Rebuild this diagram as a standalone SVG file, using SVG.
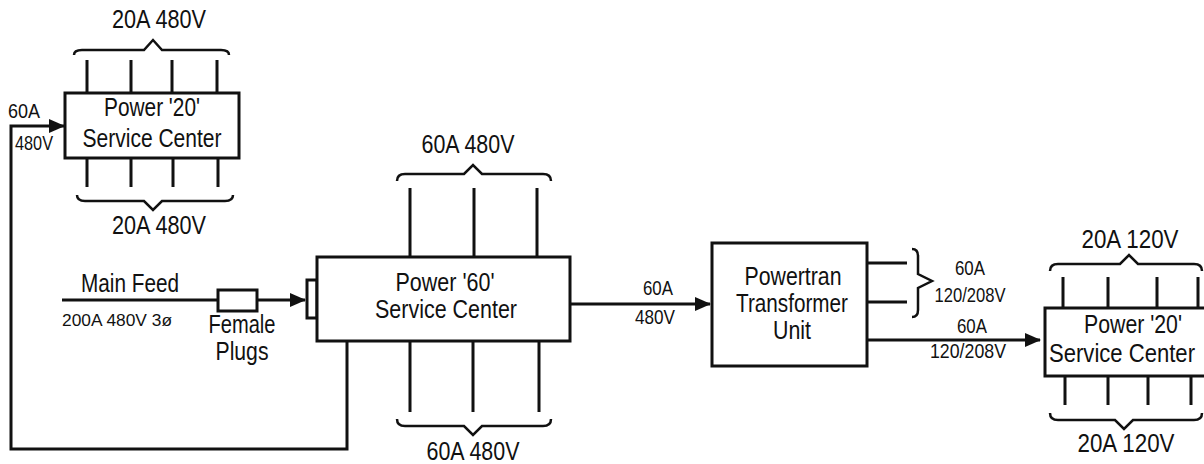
<svg xmlns="http://www.w3.org/2000/svg" width="1204" height="464" viewBox="0 0 1204 464">
<style>
text{font-family:"Liberation Sans",Arial,sans-serif;fill:#111;text-anchor:middle}
.b{font-size:25px}
.s{font-size:21px}
.st{text-anchor:start}
.box{fill:#fff;stroke:#111;stroke-width:3}
.ln{fill:none;stroke:#111;stroke-width:3}
.br{fill:none;stroke:#111;stroke-width:2.5;stroke-linejoin:miter}
</style>
<defs>
<marker id="ar" markerUnits="userSpaceOnUse" markerWidth="16" markerHeight="14" refX="15" refY="7" orient="auto">
<path d="M0,0 L16,7 L0,14 Z" fill="#111"/>
</marker>
</defs>
<rect width="1204" height="464" fill="#fff"/>
<g id="connectors">
<path class="ln" d="M347,341 V449 H11 V126 H64" marker-end="url(#ar)"/>
<line class="ln" x1="62" y1="300" x2="218" y2="300"/>
<line class="ln" x1="257" y1="300" x2="305" y2="300" marker-end="url(#ar)"/>
<line class="ln" x1="571" y1="304" x2="710" y2="304" marker-end="url(#ar)"/>
<line class="ln" x1="867" y1="263" x2="907" y2="263"/>
<line class="ln" x1="867" y1="302" x2="907" y2="302"/>
<line class="ln" x1="867" y1="340" x2="1040" y2="340" marker-end="url(#ar)"/>
</g>
<g id="labels">
<text class="s st" x="8" y="118" textLength="32" lengthAdjust="spacingAndGlyphs">60A</text>
<text class="s st" x="15" y="150" textLength="38" lengthAdjust="spacingAndGlyphs">480V</text>
<text class="b" x="130" y="292" textLength="98" lengthAdjust="spacingAndGlyphs">Main Feed</text>
<text class="st" x="62" y="326" font-size="17" textLength="110" lengthAdjust="spacingAndGlyphs">200A 480V 3ø</text>
<text class="s" x="658" y="295" textLength="30" lengthAdjust="spacingAndGlyphs">60A</text>
<text class="s" x="655" y="324" textLength="40" lengthAdjust="spacingAndGlyphs">480V</text>
<path class="br" d="M912,249 Q918,249 918,256 V274 L932,281 L918,288 V310 Q918,317 912,317"/>
<text class="s" x="970" y="275" textLength="30" lengthAdjust="spacingAndGlyphs">60A</text>
<text class="s" x="970" y="302" textLength="71" lengthAdjust="spacingAndGlyphs">120/208V</text>
<text class="s" x="972" y="333" textLength="30" lengthAdjust="spacingAndGlyphs">60A</text>
<text class="s" x="968" y="358" textLength="76" lengthAdjust="spacingAndGlyphs">120/208V</text>
</g>
<g id="plug">
<rect class="box" x="218" y="290" width="39" height="21"/>
<text class="b" x="242" y="333" textLength="67" lengthAdjust="spacingAndGlyphs">Female</text>
<text class="b" x="242" y="360" textLength="53" lengthAdjust="spacingAndGlyphs">Plugs</text>
</g>
<g id="power20-left">
<path class="ln" d="M87,60 V93 M131,60 V93 M172,60 V93 M217,60 V93 M87,158 V187 M131,158 V187 M173,158 V187 M218,158 V187"/>
<rect class="box" x="65" y="93" width="174" height="65"/>
<text class="b" x="152" y="116" textLength="96" lengthAdjust="spacingAndGlyphs">Power '20'</text>
<text class="b" x="152" y="147" textLength="139" lengthAdjust="spacingAndGlyphs">Service Center</text>
<path class="br" d="M74,55 Q74,50 82,50 H144 L153,40 L162,50 H221 Q229,50 229,55"/>
<text class="b" x="159" y="28" textLength="94" lengthAdjust="spacingAndGlyphs">20A 480V</text>
<path class="br" d="M77,195 Q77,201 85,201 H144 L153,210 L162,201 H225 Q233,201 233,195"/>
<text class="b" x="159" y="234" textLength="94" lengthAdjust="spacingAndGlyphs">20A 480V</text>
</g>
<g id="power60">
<path class="ln" d="M410,188 V257 M474,188 V257 M537,188 V257 M410,341 V412 M473,341 V412 M539,341 V412"/>
<rect class="box" x="307" y="280" width="10" height="38"/>
<rect class="box" x="317" y="257" width="253" height="84"/>
<text class="b" x="445" y="291" textLength="99" lengthAdjust="spacingAndGlyphs">Power '60'</text>
<text class="b" x="446" y="318" textLength="142" lengthAdjust="spacingAndGlyphs">Service Center</text>
<path class="br" d="M397,181 Q397,174 405,174 H464 L473,165 L482,174 H543 Q551,174 551,181"/>
<text class="b" x="468" y="153" textLength="93" lengthAdjust="spacingAndGlyphs">60A 480V</text>
<path class="br" d="M397,419 Q397,426 405,426 H464 L473,435 L482,426 H543 Q551,426 551,419"/>
<text class="b" x="473" y="460" textLength="93" lengthAdjust="spacingAndGlyphs">60A 480V</text>
</g>
<g id="transformer">
<rect class="box" x="712" y="243" width="155" height="123"/>
<text class="b" x="793" y="285" textLength="97" lengthAdjust="spacingAndGlyphs">Powertran</text>
<text class="b" x="792" y="312" textLength="112" lengthAdjust="spacingAndGlyphs">Transformer</text>
<text class="b" x="792" y="339" textLength="38" lengthAdjust="spacingAndGlyphs">Unit</text>
</g>
<g id="power20-right">
<path class="ln" d="M1063,277 V308 M1108,277 V308 M1157,277 V308 M1198,277 V308 M1065,376 V405 M1108,376 V405 M1148,376 V405 M1191,376 V405"/>
<rect class="box" x="1045" y="308" width="170" height="68"/>
<text class="b" x="1133" y="333" textLength="98" lengthAdjust="spacingAndGlyphs">Power '20'</text>
<text class="b" x="1122" y="362" textLength="146" lengthAdjust="spacingAndGlyphs">Service Center</text>
<path class="br" d="M1050,271 Q1050,264 1058,264 H1120 L1129,255 L1138,264 H1194 Q1202,264 1202,271"/>
<text class="b" x="1130" y="248" textLength="97" lengthAdjust="spacingAndGlyphs">20A 120V</text>
<path class="br" d="M1050,413 Q1050,420 1058,420 H1115 L1124,429 L1133,420 H1194 Q1202,420 1202,413"/>
<text class="b" x="1126" y="452" textLength="97" lengthAdjust="spacingAndGlyphs">20A 120V</text>
</g>
</svg>
